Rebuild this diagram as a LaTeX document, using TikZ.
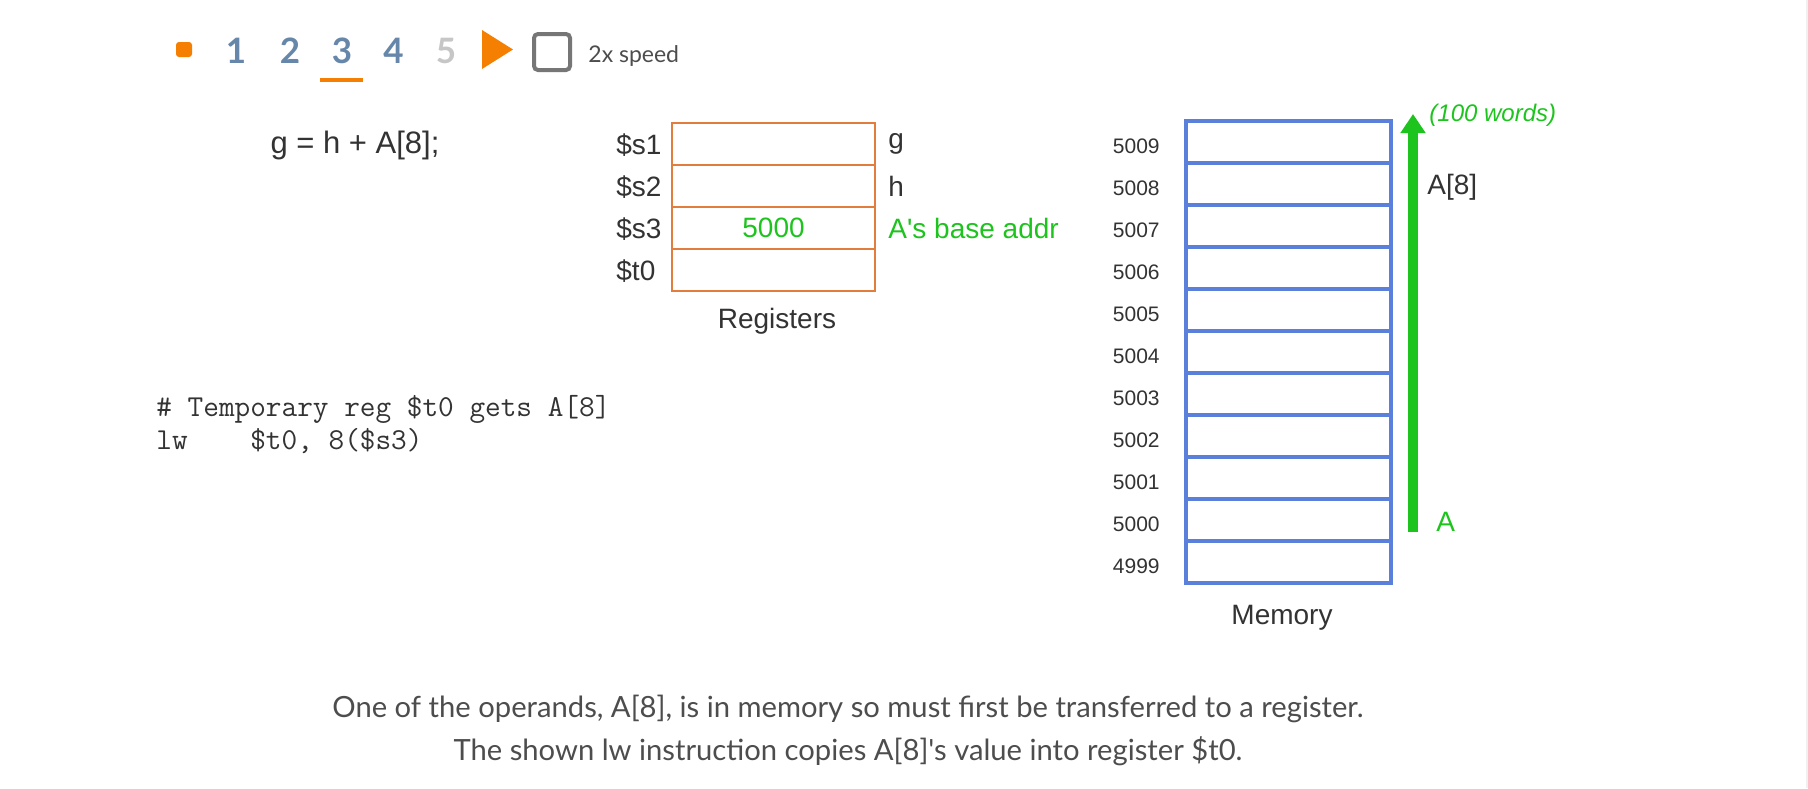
\documentclass[tikz,border=0pt]{standalone}
\usepackage{fontspec}
\setmainfont{Liberation Sans}[Ligatures=TeXOff]
\newfontfamily\uifont{Lato}[Ligatures=TeXOff]
\usetikzlibrary{arrows.meta,positioning}

\definecolor{uiorange}{HTML}{F57F00}
\definecolor{regorange}{HTML}{E27D3E}
\definecolor{memblue}{HTML}{5A80DB}
\definecolor{textgreen}{HTML}{1EC41E}
\definecolor{stepblue}{HTML}{6787AA}
\definecolor{stepgray}{HTML}{C6C6C6}
\definecolor{boxgray}{HTML}{767676}
\definecolor{darktext}{HTML}{333333}
\definecolor{notetext}{HTML}{4D4D4D}

\tikzset{
  regbox/.style={draw=regorange,line width=1pt,minimum width=101.5pt,minimum height=21pt,inner sep=0pt,text=textgreen,font=\fontsize{14}{16}\selectfont},
  memcell/.style={draw=memblue,line width=2pt,minimum width=102.5pt,minimum height=21pt,inner sep=0pt},
  lbl/.style={inner sep=0pt,text=darktext,font=\fontsize{14}{16}\selectfont},
  addr/.style={inner sep=0pt,text=darktext,font=\fontsize{10.5}{12}\selectfont},
  stepnum/.style={inner sep=0pt,text=stepblue,font=\uifont\bfseries\fontsize{17.5}{20}\selectfont},
  codeline/.style={anchor=west,inner sep=0pt,text=darktext,font=\ttfamily\fontsize{15.2}{17}\selectfont},
  note/.style={inner sep=0pt,text=notetext,font=\uifont\fontsize{14.6}{17}\selectfont}
}

\begin{document}
\begin{tikzpicture}[x=0.5pt,y=-0.5pt]
\useasboundingbox (0,0) rectangle (1808,788);
\fill[white] (0,0) rectangle (1808,788);
\fill[gray!12] (1806,0) rectangle (1808,788);

% player bar
\fill[uiorange,rounded corners=1.5pt] (176,42) rectangle (192,57);
\foreach \d/\x [count=\n] in {1/236,2/290,3/342,4/393.5}
  \node[stepnum] (S\n) at (\x,50.5) {\d};
\node[stepnum,text=stepgray] (S5) at (446,50.5) {5};
\fill[uiorange] (320,78) rectangle (363,82);
\fill[uiorange] (482,30) -- (513,49.5) -- (482,69) -- cycle;
\draw[boxgray,line width=2pt,rounded corners=2pt] (534,34) rectangle (570,70);
\node[anchor=west,inner sep=0pt,text=notetext,font=\uifont\fontsize{11.5}{14}\selectfont] (speed) at (588,56) {2x speed};

% statement and code
\node[lbl,font=\fontsize{15.5}{18}\selectfont] (stmt) at (355,145) {g = h + A[8];};
\node[codeline] (code1) at (156,409) {\# Temporary reg \$t0 gets A[8]};
\node[codeline] (code2) at (156,441) {lw\ \ \ \ \$t0, 8(\$s3)};

% registers
\foreach \r/\v [count=\n] in {\$s1/{},\$s2/{},\$s3/5000,\$t0/{}}{
  \node[regbox] (R\n) at (773.5,{144+42*(\n-1)}) {\v};
  \node[lbl,anchor=west] (RN\n) at (616,{145+42*(\n-1)}) {\r};
}
\node[lbl,right=6pt of R1] (Rg) {g};
\node[lbl,right=6pt of R2] (Rh) {h};
\node[lbl,right=6pt of R3,text=textgreen] (Rbase) {A's base addr};
\node[lbl] (reglabel) at (777,321) {Registers};

% memory
\foreach \a [count=\n] in {5009,5008,5007,5006,5005,5004,5003,5002,5001,5000,4999}{
  \node[memcell] (M\n) at (1288.5,{142+42*(\n-1)}) {};
  \node[addr,left=12pt of M\n,yshift=-2pt] (MA\n) {\a};
}
\node[lbl] (memlabel) at (1282,618) {Memory};

% array A
\coordinate (Afoot) at (1413,532);
\coordinate (Atip) at (1413,114);
\draw[textgreen,line width=5pt,-{Triangle[width=12pt,length=9.5pt]}] (Afoot) -- (Atip);
\node[anchor=west,inner sep=0pt,text=textgreen,font=\itshape\fontsize{12}{14}\selectfont] (words) at (1429,115) {(100 words)};
\node[lbl,anchor=west] (A8) at (1427,187) {A[8]};
\node[lbl,anchor=west,text=textgreen] (Aname) at (1436,522) {A};

% explanation
\node[note] (note1) at (848,709) {One of the operands, A[8], is in memory so must first be transferred to a register.};
\node[note] (note2) at (848,751) {The shown lw instruction copies A[8]'s value into register \$t0.};
\end{tikzpicture}
\end{document}
